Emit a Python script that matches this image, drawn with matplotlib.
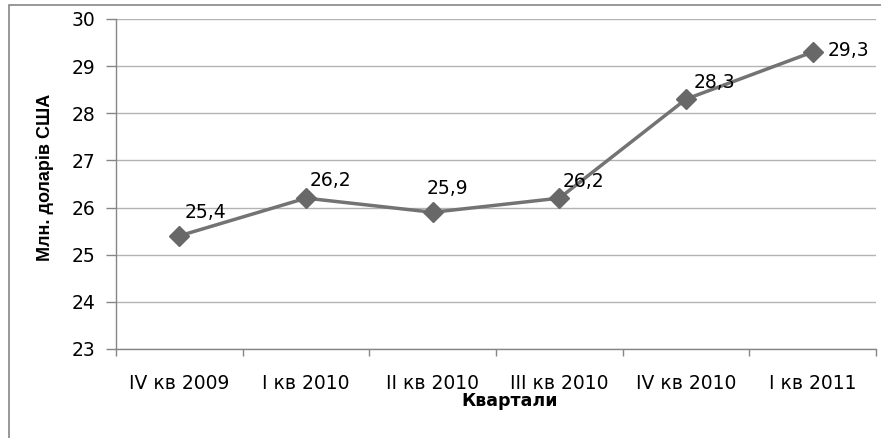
import matplotlib.pyplot as plt
from matplotlib.patches import Rectangle
from matplotlib.ticker import FixedLocator

# дані
kvartaly = ["IV кв 2009", "I кв 2010", "II кв 2010", "III кв 2010", "IV кв 2010", "I кв 2011"]
znachennya = [25.4, 26.2, 25.9, 26.2, 28.3, 29.3]
pidpysy = ["25,4", "26,2", "25,9", "26,2", "28,3", "29,3"]
# зсув підписів у пікселях
zsuv = [(26, 23), (24, 18), (15, 24), (24, 17), (28, 17), (36, 1)]

plt.rcParams['font.family'] = ['DejaVu Sans']

fig = plt.figure(figsize=(8.81, 4.38), dpi=100)
ax = fig.add_axes([116/881, 1 - 349/438, 760/881, 330/438])

# рамка діаграми
fig.patches.append(Rectangle((8.5/881, -0.1), 1.2, 1 - 4.5/438 + 0.1,
                             transform=fig.transFigure, fill=False,
                             edgecolor="#868686", linewidth=1.2))

x = list(range(len(kvartaly)))
ax.plot(x, znachennya, color="#737373", linewidth=2.5, marker="D",
        markersize=10, markerfacecolor="#686868", markeredgecolor="#686868", zorder=3)

for xi, yi, t, (dx, dy) in zip(x, znachennya, pidpysy, zsuv):
    ax.annotate(t, (xi, yi), xytext=(dx * 0.72, dy * 0.72), textcoords="offset points",
                ha="center", va="center", fontsize=13.5, color="black")

ax.set_xlim(-0.5, 5.5)
ax.set_ylim(23, 30)
ax.set_yticks(range(23, 31))
ax.yaxis.grid(True, color="#b3b3b3", linewidth=1)
ax.set_axisbelow(True)

ax.xaxis.set_major_locator(FixedLocator([i - 0.5 for i in range(7)]))
ax.xaxis.set_minor_locator(FixedLocator(x))
ax.set_xticklabels([], minor=False)
ax.set_xticklabels(kvartaly, minor=True)
ax.tick_params(axis="x", which="major", length=5, color="#868686", width=1)
ax.tick_params(axis="x", which="minor", length=0, pad=18, labelsize=13.5)
ax.tick_params(axis="y", length=7, color="#868686", width=1, labelsize=13.5, pad=8)

for s in ["top", "right"]:
    ax.spines[s].set_visible(False)
for s in ["left", "bottom"]:
    ax.spines[s].set_color("#868686")
    ax.spines[s].set_linewidth(1)

fig.text(510/881, 1 - 401/438, "Квартали", ha="center", va="center",
         fontsize=12.5, fontweight="bold")
fig.text(45/881, 1 - 177/438, "Млн. доларів США", rotation=90, ha="center", va="center",
         fontsize=13, fontweight="bold", family=["Liberation Sans Narrow", "Liberation Sans"])

fig.savefig("out.png", dpi=100)
